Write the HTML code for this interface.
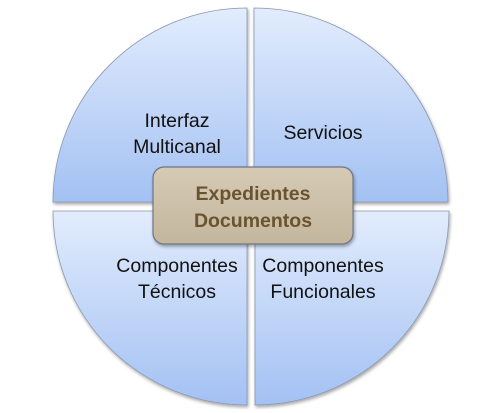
<!DOCTYPE html>
<html><head><meta charset="utf-8"><style>
html,body{margin:0;padding:0;background:#fff;width:495px;height:413px;overflow:hidden}
svg{display:block}
text{font-family:"Liberation Sans",sans-serif;font-size:19.5px;fill:#111}
</style></head><body>
<svg width="495" height="413" viewBox="0 0 495 413">
<defs>
<linearGradient id="q" x1="0" y1="0" x2="0" y2="1">
<stop offset="0" stop-color="#e2ecfd"/><stop offset="1" stop-color="#a3c1f3"/></linearGradient>
<linearGradient id="c" x1="0" y1="0" x2="0" y2="1">
<stop offset="0" stop-color="#d5cab5"/><stop offset="1" stop-color="#c3b69d"/></linearGradient>
<filter id="s" x="-10%" y="-10%" width="120%" height="130%"><feDropShadow dx="1" dy="2" stdDeviation="1.5" flood-color="#000" flood-opacity="0.35"/></filter>
</defs>
<g stroke="#8a98b0" stroke-width="0.8" filter="url(#s)">
<path d="M247,202 L53,202 A194,194 0 0 1 247,8 Z" fill="url(#q)"/>
<path d="M254,202 L254,8 A194,194 0 0 1 448,202 Z" fill="url(#q)"/>
<path d="M247,211 L247,405 A194,194 0 0 1 53,211 Z" fill="url(#q)"/>
<path d="M255,211 L449,211 A194,194 0 0 1 255,405 Z" fill="url(#q)"/>
</g>
<text x="177" y="127" text-anchor="middle">Interfaz</text>
<text x="177" y="153" text-anchor="middle">Multicanal</text>
<text x="323" y="139" text-anchor="middle">Servicios</text>
<text x="177" y="272" text-anchor="middle">Componentes</text>
<text x="177" y="298" text-anchor="middle">Técnicos</text>
<text x="323" y="272" text-anchor="middle">Componentes</text>
<text x="323" y="298" text-anchor="middle">Funcionales</text>
<rect x="153" y="167" width="200" height="77" rx="11" fill="url(#c)" stroke="#6f7485" stroke-width="1.2" filter="url(#s)"/>
<text x="253" y="200" text-anchor="middle" style="font-weight:bold;fill:#6a5430;font-size:19.5px">Expedientes</text>
<text x="253" y="227" text-anchor="middle" style="font-weight:bold;fill:#6a5430;font-size:19.5px">Documentos</text>
</svg>
</body></html>
